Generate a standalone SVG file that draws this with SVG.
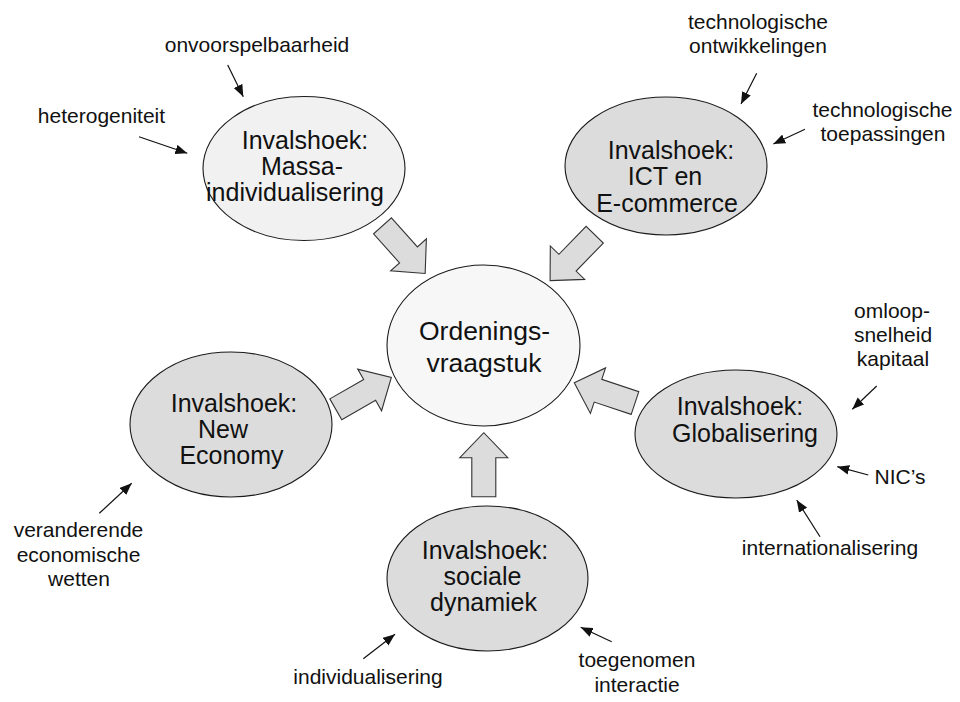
<svg xmlns="http://www.w3.org/2000/svg" width="960" height="702" viewBox="0 0 960 702">
  <defs>
    <style>
      text { font-family: "Liberation Sans", Arial, Helvetica, sans-serif; fill: #111; }
      .node { font-size: 25px; text-anchor: middle; }
      .core { font-size: 26.5px; text-anchor: middle; }
      .lbl { font-size: 21px; text-anchor: middle; }
      .oval { stroke: #1a1a1a; stroke-width: 1.1; fill: #dcdcdc; }
      .light { fill: #f1f1f1; }
      .lightest { fill: #f7f7f7; }
      .block { fill: #dcdcdc; stroke: #333; stroke-width: 1.1; stroke-linejoin: miter; }
      .thin { stroke: #111; stroke-width: 1.2; fill: none; marker-end: url(#tip); }
    </style>
    <marker id="tip" viewBox="0 0 10 8" refX="10" refY="4" markerWidth="12" markerHeight="10" markerUnits="userSpaceOnUse" orient="auto">
      <path d="M0,0 L10,4 L0,8 Z" fill="#111"/>
    </marker>
    <polygon id="blockArrow" points="0,-12 39,-12 39,-24 64,0 39,24 39,12 0,12"/>
  </defs>

  <!-- block arrows and small pointers -->
  <g id="connectors">
    <use href="#blockArrow" class="block" transform="translate(382.5,225.8) rotate(48.2)"/>
    <use href="#blockArrow" class="block" transform="translate(594.7,234.7) rotate(134.2)"/>
    <use href="#blockArrow" class="block" transform="translate(335.8,409.3) rotate(-29.8)"/>
    <use href="#blockArrow" class="block" transform="translate(635,403) rotate(198.4)"/>
    <use href="#blockArrow" class="block" transform="translate(483.8,496.7) rotate(-90)"/>

    <line class="thin" x1="227.7" y1="65" x2="243.3" y2="96.7"/>
    <line class="thin" x1="139" y1="136.7" x2="187.3" y2="153.3"/>
    <line class="thin" x1="756.7" y1="73.3" x2="741" y2="104"/>
    <line class="thin" x1="805" y1="129.3" x2="773.3" y2="144"/>
    <line class="thin" x1="876.7" y1="386" x2="852.3" y2="409.3"/>
    <line class="thin" x1="868.3" y1="475" x2="837.3" y2="466.7"/>
    <line class="thin" x1="820" y1="536.7" x2="796.7" y2="500"/>
    <line class="thin" x1="99.3" y1="513.3" x2="131.7" y2="483.3"/>
    <line class="thin" x1="363.3" y1="658.7" x2="395" y2="634.3"/>
    <line class="thin" x1="611.7" y1="641.7" x2="580.7" y2="627.3"/>
  </g>

  <g id="massa">
    <ellipse class="oval light" cx="304" cy="168.5" rx="101" ry="72"/>
    <text class="node" x="305" y="148.5">Invalshoek:</text>
    <text class="node" x="302" y="174.5">Massa-</text>
    <text class="node" x="295" y="200.5">individualisering</text>
  </g>

  <g id="ict">
    <ellipse class="oval" cx="666" cy="166" rx="101" ry="69"/>
    <text class="node" x="671" y="158.5">Invalshoek:</text>
    <text class="node" x="665" y="185">ICT en</text>
    <text class="node" x="667" y="211.5">E-commerce</text>
  </g>

  <g id="ordening">
    <ellipse class="oval lightest" cx="483.5" cy="345.5" rx="96.5" ry="80.5"/>
    <text class="core" x="484.5" y="340">Ordenings-</text>
    <text class="core" x="484" y="371.5">vraagstuk</text>
  </g>

  <g id="new-economy">
    <ellipse class="oval" cx="231" cy="424.5" rx="101" ry="72.5"/>
    <text class="node" x="234" y="411.5">Invalshoek:</text>
    <text class="node" x="223" y="437.5">New</text>
    <text class="node" x="231.5" y="463.5">Economy</text>
  </g>

  <g id="globalisering">
    <ellipse class="oval" cx="736" cy="434" rx="101" ry="64"/>
    <text class="node" x="740" y="415">Invalshoek:</text>
    <text class="node" x="745" y="441.5">Globalisering</text>
  </g>

  <g id="sociale-dynamiek">
    <ellipse class="oval" cx="487.5" cy="578.5" rx="100.5" ry="72.5"/>
    <text class="node" x="485" y="559">Invalshoek:</text>
    <text class="node" x="482.5" y="585">sociale</text>
    <text class="node" x="483.5" y="611">dynamiek</text>
  </g>

  <g id="labels">
    <text class="lbl" x="257" y="52">onvoorspelbaarheid</text>
    <text class="lbl" x="101.5" y="123">heterogeniteit</text>
    <text class="lbl" x="758" y="28.5">technologische</text>
    <text class="lbl" x="758" y="52.5">ontwikkelingen</text>
    <text class="lbl" x="882.5" y="116.5">technologische</text>
    <text class="lbl" x="883" y="140.5">toepassingen</text>
    <text class="lbl" x="892" y="318">omloop-</text>
    <text class="lbl" x="893" y="342">snelheid</text>
    <text class="lbl" x="893" y="366">kapitaal</text>
    <text class="lbl" x="900" y="484">NIC’s</text>
    <text class="lbl" x="830" y="555">internationalisering</text>
    <text class="lbl" x="78.5" y="537">veranderende</text>
    <text class="lbl" x="78.5" y="561.5">economische</text>
    <text class="lbl" x="79" y="586">wetten</text>
    <text class="lbl" x="368" y="684">individualisering</text>
    <text class="lbl" x="637" y="667">toegenomen</text>
    <text class="lbl" x="637" y="691.5">interactie</text>
  </g>
</svg>
